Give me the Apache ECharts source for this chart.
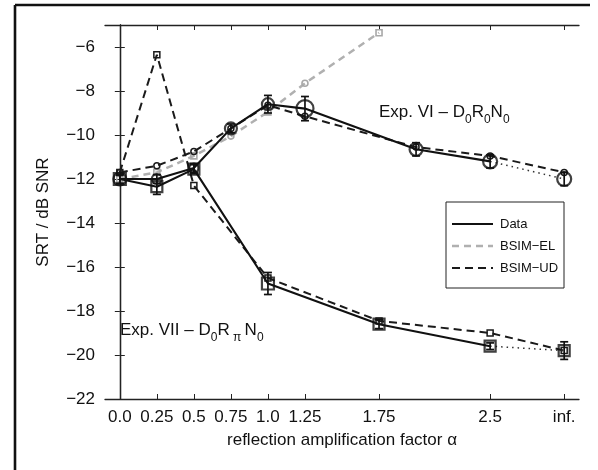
<!DOCTYPE html>
<html><head><meta charset="utf-8">
<script src="https://cdn.jsdelivr.net/npm/echarts@6/dist/echarts.min.js"></script>
<style>html,body{margin:0;padding:0;background:#fff}#c{width:598px;height:470px}</style>
</head><body><div id="c"></div>
<script>
// ---- data ----
const tickAlpha = [0, 0.25, 0.5, 0.75, 1.0, 1.25, 1.75, 2.5, 3.0]; // 3.0 stands for "inf."
const tickLabels = ['0.0', '0.25', '0.5', '0.75', '1.0', '1.25', '1.75', '2.5', 'inf.'];
const yTicks = [-22, -20, -18, -16, -14, -12, -10, -8, -6];

// Exp. VI (circles)
const viAlpha = [0, 0.25, 0.5, 0.75, 1.0, 1.25, 2.0, 2.5, 3.0];
const viData = [-12.0, -12.0, -11.5, -9.7, -8.6, -8.8, -10.65, -11.2, -12.0];
const viErr = [0.2, 0.2, 0.2, 0.2, 0.4, 0.55, 0.3, 0.3, 0.3];
const viSize = [13, 10, 9, 12, 12, 17, 13, 14, 14];
const viUD = [-11.7, -11.4, -10.75, -9.7, -8.65, -9.15, -10.55, -10.95, -11.7];

// Exp. VII (squares)
const viiAlpha = [0, 0.25, 0.5, 1.0, 1.75, 2.5, 3.0];
const viiData = [-12.0, -12.35, -11.55, -16.75, -18.6, -19.6, -19.8];
const viiErr = [0.2, 0.35, 0.2, 0.5, 0.2, 0.15, 0.4];
const viiSize = [12, 11, 11, 12, 11, 11, 11];
const viiUD = [-11.7, -6.35, -12.3, -16.5, -18.45, -19.0, -19.8];

// BSIM-EL
const elAlpha = [0, 0.25, 0.5, 0.75, 1.0, 1.25, 1.75];
const elData = [-12.0, -11.7, -10.95, -10.05, -8.95, -7.65, -5.35];
const elSymbols = ['rect', 'rect', 'rect', 'circle', 'rect', 'circle', 'rect'];

// ---- chart ----
const FONT = '"Liberation Sans", Arial, Helvetica, sans-serif';
const chart = echarts.init(document.getElementById('c'), null, {renderer: 'canvas'});

function pts(xs, ys) { return xs.map((x, i) => [x, ys[i]]); }
function sized(xs, ys, sizes) { return xs.map((x, i) => ({value: [x, ys[i]], symbolSize: sizes[i]})); }
const solidUpTo = (xs, ys) => pts(xs, ys).filter(p => p[0] < 3);
const dotted = (xs, ys) => pts(xs, ys).filter(p => p[0] >= 2.5);

function errRender(params, api) {
  const x = api.value(0), y = api.value(1), e = api.value(2);
  const t = api.coord([x, y + e]), b = api.coord([x, y - e]);
  const w = 4;
  const st = {stroke: '#111', lineWidth: 1.7};
  return {type: 'group', children: [
    {type: 'line', shape: {x1: t[0], y1: t[1], x2: b[0], y2: b[1]}, style: st},
    {type: 'line', shape: {x1: t[0] - w, y1: t[1], x2: t[0] + w, y2: t[1]}, style: st},
    {type: 'line', shape: {x1: b[0] - w, y1: b[1], x2: b[0] + w, y2: b[1]}, style: st}
  ]};
}

const axisCommon = {
  axisLine: {show: true, lineStyle: {color: '#222', width: 1.3}},
  splitLine: {show: false}
};

const option = {
  animation: false,
  backgroundColor: '#fff',
  grid: {left: 105, right: 19, top: 25, bottom: 71, containLabel: false},
  xAxis: [
    Object.assign({
      type: 'value', min: -0.1, max: 3.1, position: 'bottom',
      axisTick: {show: true, inside: true, length: 5, customValues: tickAlpha, lineStyle: {color: '#222', width: 1}},
      axisLabel: {show: true, customValues: tickAlpha, margin: 10, color: '#111', fontSize: 17, fontFamily: FONT,
        formatter: v => { const i = tickAlpha.findIndex(t => Math.abs(t - v) < 1e-6); return i >= 0 ? tickLabels[i] : ''; }},
      name: 'reflection amplification factor \u03b1', nameLocation: 'middle', nameGap: 33,
      nameTextStyle: {fontSize: 17, fontFamily: FONT, color: '#111'}
    }, axisCommon),
    Object.assign({
      type: 'value', min: -0.1, max: 3.1, position: 'top',
      axisTick: {show: true, inside: true, length: 5, customValues: tickAlpha, lineStyle: {color: '#222', width: 1}},
      axisLabel: {show: false}
    }, axisCommon)
  ],
  yAxis: [
    Object.assign({
      type: 'value', min: -22, max: -5, interval: 2, position: 'left',
      axisTick: {show: true, inside: true, length: 5, lineStyle: {color: '#222', width: 1}},
      axisLabel: {margin: 10, color: '#111', fontSize: 17, fontFamily: FONT,
        formatter: v => yTicks.indexOf(v) >= 0 ? String(v).replace('-', '\u2212') : ''},
      name: 'SRT / dB SNR', nameLocation: 'middle', nameGap: 53, nameRotate: 90,
      nameTextStyle: {fontSize: 17, fontFamily: FONT, color: '#111'}
    }, axisCommon),
    Object.assign({
      type: 'value', min: -22, max: -5, interval: 2, position: 'right',
      axisTick: {show: true, inside: true, length: 5, lineStyle: {color: '#222', width: 1}},
      axisLabel: {show: false}
    }, axisCommon)
  ],
  series: [
    // BSIM-EL (grey dashed)
    {type: 'line', name: 'BSIM-EL', data: elAlpha.map((x, i) => ({value: [x, elData[i]], symbol: elSymbols[i]})),
      symbolSize: 6, z: 2,
      lineStyle: {color: '#b0b0b0', width: 2.5, type: [7, 5]},
      itemStyle: {color: 'transparent', borderColor: '#a8a8a8', borderWidth: 1.6}},
    // BSIM-UD VI (black dashed, small circles)
    {type: 'line', name: 'BSIM-UD', data: pts(viAlpha, viUD), symbol: 'circle', symbolSize: 6, z: 3,
      lineStyle: {color: '#1a1a1a', width: 2, type: [8, 5]},
      itemStyle: {color: 'transparent', borderColor: '#1a1a1a', borderWidth: 1.5}},
    // BSIM-UD VII (black dashed, small squares)
    {type: 'line', name: 'BSIM-UD', data: pts(viiAlpha, viiUD), symbol: 'rect', symbolSize: 6, z: 3,
      lineStyle: {color: '#1a1a1a', width: 2, type: [8, 5]},
      itemStyle: {color: 'transparent', borderColor: '#1a1a1a', borderWidth: 1.5}},
    // Data VI solid
    {type: 'line', name: 'Data', data: solidUpTo(viAlpha, viData), symbol: 'none', z: 4,
      lineStyle: {color: '#111', width: 2.1}},
    {type: 'line', name: 'Data-dot', data: dotted(viAlpha, viData), symbol: 'none', z: 4,
      lineStyle: {color: '#333', width: 1.5, type: [1.5, 4]}},
    {type: 'scatter', name: 'DataVI', data: sized(viAlpha, viData, viSize), symbol: 'circle', z: 5,
      itemStyle: {color: 'transparent', borderColor: '#111', borderWidth: 2.2}},
    // Data VII solid
    {type: 'line', name: 'Data', data: solidUpTo(viiAlpha, viiData), symbol: 'none', z: 4,
      lineStyle: {color: '#111', width: 2.1}},
    {type: 'line', name: 'Data-dot', data: dotted(viiAlpha, viiData), symbol: 'none', z: 4,
      lineStyle: {color: '#333', width: 1.5, type: [1.5, 4]}},
    {type: 'scatter', name: 'DataVII', data: sized(viiAlpha, viiData, viiSize), symbol: 'rect', z: 5,
      itemStyle: {color: 'transparent', borderColor: '#111', borderWidth: 2.2}},
    // error bars
    {type: 'custom', name: 'errVI', renderItem: errRender, z: 6,
      data: viAlpha.map((x, i) => [x, viData[i], viErr[i]])},
    {type: 'custom', name: 'errVII', renderItem: errRender, z: 6,
      data: viiAlpha.map((x, i) => [x, viiData[i], viiErr[i]])}
  ],
  graphic: [
    // outer frame (left and top edges)
    {type: 'line', shape: {x1: 15, y1: 5, x2: 590, y2: 5}, style: {stroke: '#111', lineWidth: 2.6}},
    {type: 'line', shape: {x1: 15, y1: 5, x2: 15, y2: 470}, style: {stroke: '#111', lineWidth: 2.6}},
    // annotations
    {type: 'text', left: 379, top: 104, style: {
      text: '{a|Exp. VI \u2013 D}{s|0}{a|R}{s|0}{a|N}{s|0}',
      rich: {a: {fontSize: 17, fontFamily: FONT, fill: '#111'},
             s: {fontSize: 12, fontFamily: FONT, fill: '#111', padding: [14, 0, 0, 0]}}}},
    {type: 'text', left: 120, top: 322, style: {
      text: '{a|Exp. VII \u2013 D}{s|0}{a|R}{s| \u03c0 }{a|N}{s|0}',
      rich: {a: {fontSize: 17, fontFamily: FONT, fill: '#111'},
             s: {fontSize: 12, fontFamily: FONT, fill: '#111', padding: [14, 0, 0, 0]}}}},
    // legend
    {type: 'rect', shape: {x: 446, y: 202, width: 118, height: 86}, style: {fill: '#fff', stroke: '#222', lineWidth: 1}, z: 10},
    {type: 'line', shape: {x1: 452, y1: 224, x2: 493, y2: 224}, style: {stroke: '#111', lineWidth: 2}, z: 11},
    {type: 'line', shape: {x1: 452, y1: 246, x2: 493, y2: 246}, style: {stroke: '#b0b0b0', lineWidth: 2.5, lineDash: [7, 5]}, z: 11},
    {type: 'line', shape: {x1: 452, y1: 268, x2: 493, y2: 268}, style: {stroke: '#1a1a1a', lineWidth: 2, lineDash: [8, 5]}, z: 11},
    {type: 'text', x: 500, y: 224, style: {text: 'Data', fontSize: 13, fontFamily: FONT, fill: '#111', verticalAlign: 'middle'}, z: 11},
    {type: 'text', x: 500, y: 246, style: {text: 'BSIM\u2212EL', fontSize: 13, fontFamily: FONT, fill: '#111', verticalAlign: 'middle'}, z: 11},
    {type: 'text', x: 500, y: 268, style: {text: 'BSIM\u2212UD', fontSize: 13, fontFamily: FONT, fill: '#111', verticalAlign: 'middle'}, z: 11}
  ]
};
chart.setOption(option);
</script>
</body></html>
